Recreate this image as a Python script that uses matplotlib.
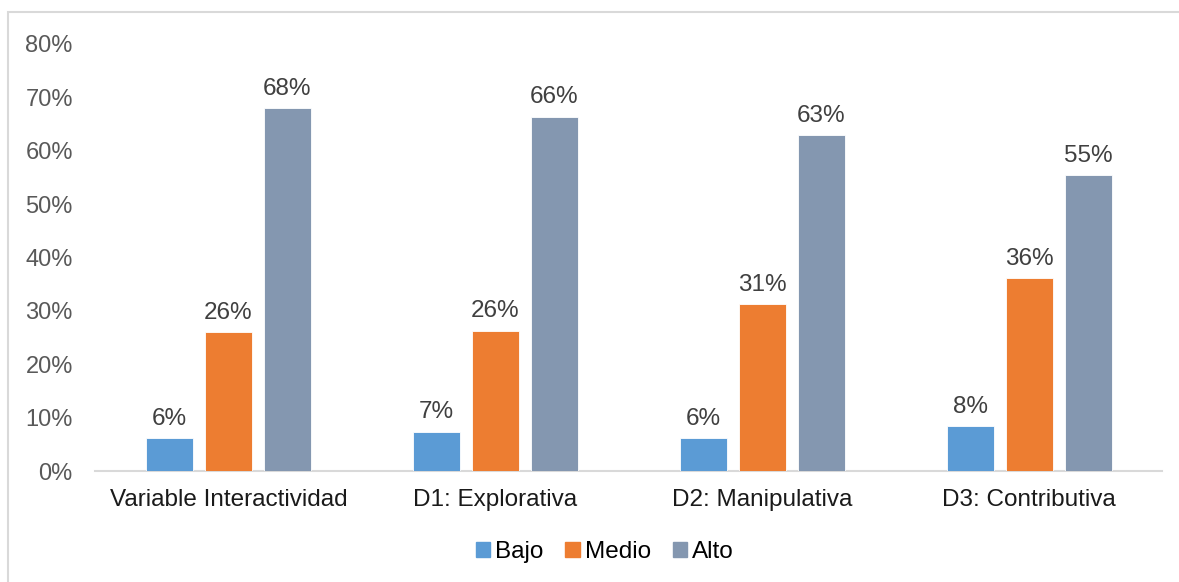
import matplotlib.pyplot as plt
import matplotlib.patches as mpatches
from matplotlib.ticker import PercentFormatter, MultipleLocator
import numpy as np

plt.rcParams['font.family'] = ['Liberation Sans', 'DejaVu Sans']

# Porcentaje de estudiantes por nivel
categorias = ["Variable Interactividad", "D1: Explorativa", "D2: Manipulativa", "D3: Contributiva"]
niveles = ["Bajo", "Medio", "Alto"]
bajo = [6.1, 7.4, 6.1, 8.4]
medio = [26.0, 26.3, 31.3, 36.1]
alto = [68.0, 66.4, 62.9, 55.4]

colores = ["#5B9BD5", "#ED7D31", "#8497B0"]

fig = plt.figure(figsize=(11.79, 5.82), dpi=100)
ax = fig.add_axes([0.0806, 0.1907, 0.9054, 0.7337])

x = np.arange(len(categorias))
ancho = 0.176
paso = 0.221

for i, (nombre, valores) in enumerate(zip(niveles, [bajo, medio, alto])):
    barras = ax.bar(x + (i - 1) * paso, valores, ancho, color=colores[i],
                    edgecolor="white", linewidth=0.6, label=nombre, zorder=3)
    ax.bar_label(barras, labels=[f"{v:.0f}%" for v in valores], padding=6,
                 fontsize=17.5, color="#404040")

ax.set_xlim(-0.5, len(categorias) - 0.5)
ax.set_ylim(0, 80)
ax.yaxis.set_major_locator(MultipleLocator(10))
ax.yaxis.set_major_formatter(PercentFormatter(decimals=0))
ax.set_xticks(x)
ax.set_xticklabels(categorias, fontsize=17.5, color="#1a1a1a")
ax.tick_params(axis="y", length=0, pad=16, labelsize=17, labelcolor="#595959")
ax.tick_params(axis="x", length=0, pad=13)

for lado in ["top", "right", "left"]:
    ax.spines[lado].set_visible(False)
ax.spines["bottom"].set_color("#D9D9D9")
ax.spines["bottom"].set_linewidth(1.5)

handles = [mpatches.Patch(color=c, label=n) for c, n in zip(colores, niveles)]
fig.legend(handles=handles, loc="center", bbox_to_anchor=(0.513, 0.051), ncol=3,
           frameon=False, fontsize=17.5, handlelength=0.6, handleheight=0.6,
           handletextpad=0.2, columnspacing=0.9)

# borde del área del gráfico
fig.patches.append(mpatches.Rectangle((8 / 1179, -0.01), 1.02, 1 - 12 / 582 + 0.01,
                                      transform=fig.transFigure, fill=False,
                                      edgecolor="#D9D9D9", linewidth=1.5))

fig.savefig("out.png", dpi=100)
